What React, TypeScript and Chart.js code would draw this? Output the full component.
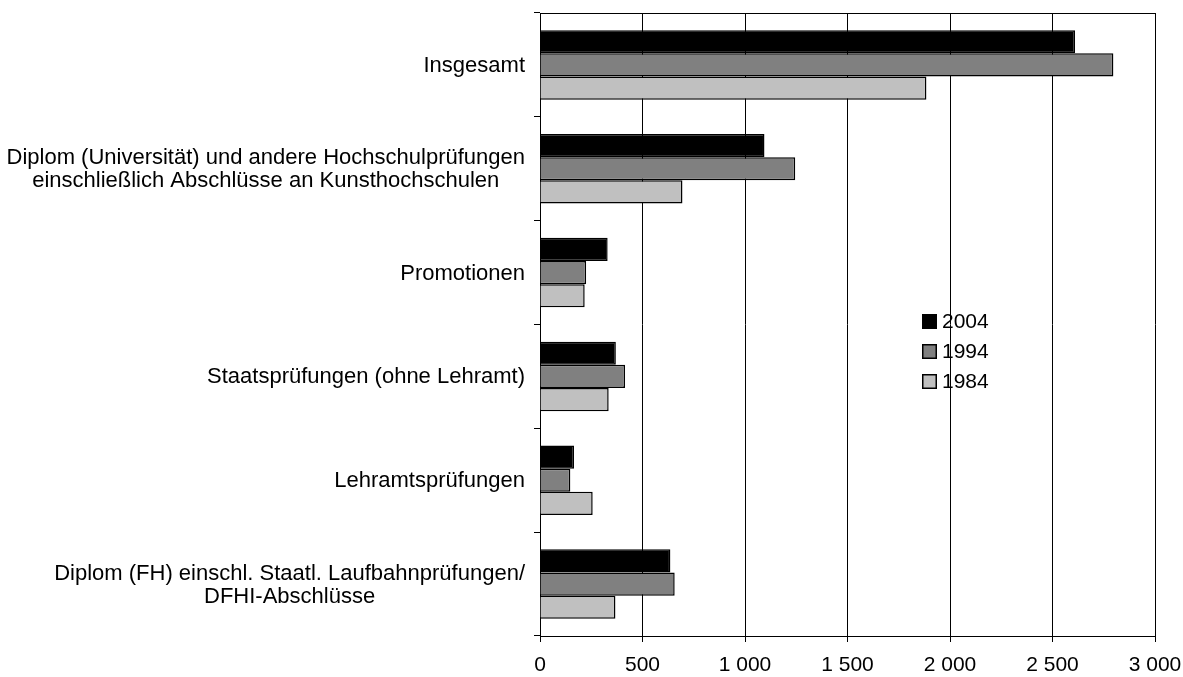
import React, { useEffect, useRef } from "react";
import { Chart, registerables } from "chart.js";

Chart.register(...registerables);

const categories: string[][] = [
  ["Insgesamt"],
  ["Diplom (Universität) und andere Hochschulprüfungen", "einschließlich Abschlüsse an Kunsthochschulen"],
  ["Promotionen"],
  ["Staatsprüfungen (ohne Lehramt)"],
  ["Lehramtsprüfungen"],
  ["Diplom (FH) einschl. Staatl. Laufbahnprüfungen/", "DFHI-Abschlüsse"],
];

const seriesNames = ["2004", "1994", "1984"];
const values2004 = [2610, 1095, 330, 370, 166, 636];
const values1994 = [2797, 1245, 225, 415, 148, 657];
const values1984 = [1885, 695, 218, 335, 257, 368];
const seriesColors = ["#000000", "#808080", "#c0c0c0"];
const xTicks = [0, 500, 1000, 1500, 2000, 2500, 3000];

const FONT = "'Liberation Sans', Arial, Helvetica, sans-serif";
const LABEL_SIZE = 22;
const TICK_SIZE = 21;

const fmt = (v: number) => {
  const s = String(Math.round(v));
  return s.replace(/\B(?=(\d{3})+(?!\d))/g, " ");
};

const customPlugin = {
  id: "custom",
  afterDraw(chart: any) {
    const ctx = chart.ctx;
    const area = chart.chartArea;
    const y = chart.scales.y;
    ctx.save();
    // top frame line
    ctx.strokeStyle = "#000";
    ctx.lineWidth = 1;
    ctx.beginPath();
    ctx.moveTo(area.left, Math.round(area.top) + 0.5);
    ctx.lineTo(area.right, Math.round(area.top) + 0.5);
    ctx.stroke();

    // y labels: lines centered within block, block right aligned
    ctx.font = `${LABEL_SIZE}px ${FONT}`;
    ctx.fillStyle = "#000";
    ctx.textBaseline = "middle";
    ctx.textAlign = "center";
    const right = area.left - 15;
    const lh = 23;
    categories.forEach((lines, i) => {
      const cy = y.getPixelForValue(i) + 1;
      const maxW = Math.max(...lines.map((l) => ctx.measureText(l).width));
      const cx = right - maxW / 2;
      const start = cy - ((lines.length - 1) * lh) / 2;
      lines.forEach((l, j) => ctx.fillText(l, cx, start + j * lh));
    });

    // legend
    ctx.font = `${TICK_SIZE}px ${FONT}`;
    const lx = 922;
    const ly = [321, 351, 381];
    chart.data.datasets.forEach((ds: any, i: number) => {
      ctx.fillStyle = "#000";
      ctx.fillRect(lx, ly[i] - 7, 15, 15);
      ctx.fillStyle = ds.backgroundColor;
      ctx.fillRect(lx + 1.5, ly[i] - 5.5, 12, 12);
      ctx.fillStyle = "#000";
      ctx.textAlign = "left";
      ctx.fillText(ds.label, lx + 20, ly[i] + 1);
    });
    ctx.restore();
  },
};

export default function App() {
  const ref = useRef<HTMLCanvasElement | null>(null);
  useEffect(() => {
    document.body.style.margin = "0";
    const canvas = ref.current!;
    const chart = new Chart(canvas, {
      type: "bar",
      data: {
        labels: categories.map((c) => c.join(" ")),
        datasets: [values2004, values1994, values1984].map((vals, i) => ({
          label: seriesNames[i],
          data: vals,
          backgroundColor: seriesColors[i],
          borderColor: "#000",
          borderWidth: 1.5,
          categoryPercentage: 0.67,
          barPercentage: 1,
        })),
      },
      options: {
        indexAxis: "y",
        responsive: false,
        animation: false,
        events: [],
        layout: { padding: { top: 13, right: 28, left: 0, bottom: 0 } },
        plugins: { legend: { display: false }, tooltip: { enabled: false } },
        scales: {
          x: {
            min: 0,
            max: 3000,
            afterBuildTicks: (scale: any) => {
              scale.ticks = xTicks.map((v) => ({ value: v }));
            },
            afterFit: (scale: any) => {
              scale.height = 41;
              scale.paddingRight = 0;
              scale.paddingLeft = 0;
            },
            grid: {
              color: "#000",
              lineWidth: 1,
              drawTicks: true,
              tickLength: 6,
              tickColor: "#000",
            },
            border: { color: "#000", width: 1 },
            ticks: {
              color: "#000",
              padding: 11,
              maxRotation: 0,
              font: { family: FONT, size: TICK_SIZE },
              callback: (v: any) => fmt(Number(v)),
            },
          },
          y: {
            afterFit: (scale: any) => {
              scale.width = 540;
            },
            grid: {
              offset: true,
              drawOnChartArea: false,
              drawTicks: true,
              tickLength: 6,
              tickColor: "#000",
            },
            border: { color: "#000", width: 1 },
            ticks: { display: false },
          },
        },
      },
      plugins: [customPlugin],
    } as any);
    return () => chart.destroy();
  }, []);
  return <canvas ref={ref} width={1183} height={677} style={{ display: "block" }} />;
}
